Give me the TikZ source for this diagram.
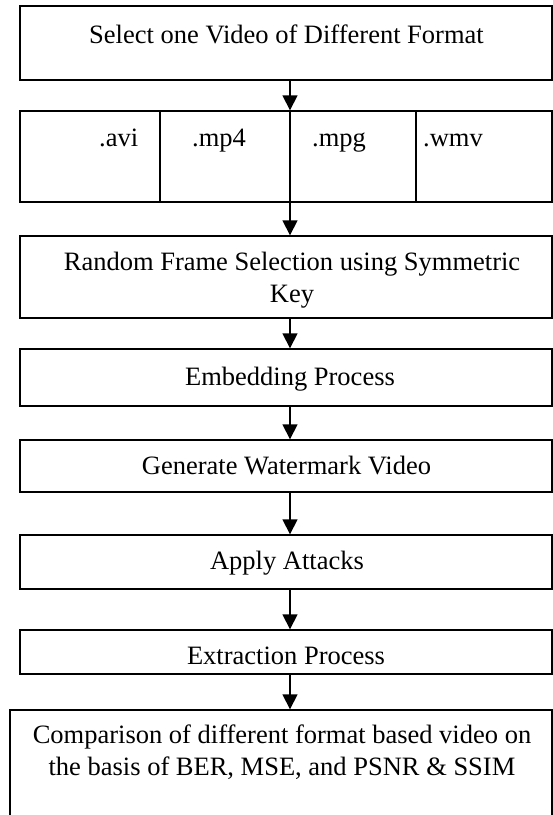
\documentclass[tikz,border=0pt]{standalone}
\usepackage{fontspec}
\setmainfont{Liberation Serif}
\usetikzlibrary{arrows.meta}
\begin{document}
\begin{tikzpicture}[x=1pt,y=-1pt,
 box/.style={draw=black, line width=1.4pt, inner sep=0pt, rectangle},
 txt/.style={inner sep=0pt, anchor=base, font=\fontsize{26.5}{32}\selectfont},
 txtw/.style={inner sep=0pt, anchor=base west, font=\fontsize{26.5}{32}\selectfont},
 arr/.style={line width=1.6pt, -{Triangle[length=15pt,width=15pt]}},
 divider/.style={line width=1.4pt}
]
\useasboundingbox (0,0) rectangle (553,815);
\clip (0,0) rectangle (553,815);
\coordinate (sp) at (290,0);
\coordinate (d1) at (160,0);
\coordinate (d2) at (416,0);
% boxes
\node[box, minimum width=532pt, minimum height=74pt] (b1) at (286,43) {};
\node[box, minimum width=532pt, minimum height=91pt] (b2) at (286,156.5) {};
\node[box, minimum width=532pt, minimum height=82pt] (b3) at (286,277) {};
\node[box, minimum width=532pt, minimum height=57pt] (b4) at (286,377.5) {};
\node[box, minimum width=532pt, minimum height=52pt] (b5) at (286,466) {};
\node[box, minimum width=532pt, minimum height=54pt] (b6) at (286,562) {};
\node[box, minimum width=532pt, minimum height=44pt] (b7) at (286,652) {};
\node[box, minimum width=542pt, minimum height=120pt] (b8) at (281,770) {};
% dividers in format box
\draw[divider] (b2.north -| d1) -- (b2.south -| d1);
\draw[divider] (b2.north -| d2) -- (b2.south -| d2);
% texts
\node[txt] (t1) at (286.5,43) {Select one Video of Different Format};
\node[txtw] (fa) at (99,146) {.avi};
\node[txtw] (fb) at (192,146) {.mp4};
\node[txtw] (fc) at (312,146) {.mpg};
\node[txtw] (fd) at (423,146) {.wmv};
\node[txt] (t3a) at (292,270) {Random Frame Selection using Symmetric};
\node[txt] (t3b) at (292,302) {Key};
\node[txt] (t4) at (290,385) {Embedding Process};
\node[txt] (t5) at (286.5,474) {Generate Watermark Video};
\node[txt] (t6) at (287,569) {Apply Attacks};
\node[txt] (t7) at (286,664) {Extraction Process};
\node[txt] (t8a) at (282,743) {Comparison of different format based video on};
\node[txt] (t8b) at (282,775) {the basis of BER, MSE, and PSNR \& SSIM};
% arrows
\draw[arr] (b1.south -| sp) -- (b2.north -| sp);
\draw[arr] (b2.north -| sp) -- (b3.north -| sp);
\draw[arr] (b3.south -| sp) -- (b4.north -| sp);
\draw[arr] (b4.south -| sp) -- (b5.north -| sp);
\draw[arr] (b5.south -| sp) -- (b6.north -| sp);
\draw[arr] (b6.south -| sp) -- (b7.north -| sp);
\draw[arr] (b7.south -| sp) -- (b8.north -| sp);
\end{tikzpicture}
\end{document}
